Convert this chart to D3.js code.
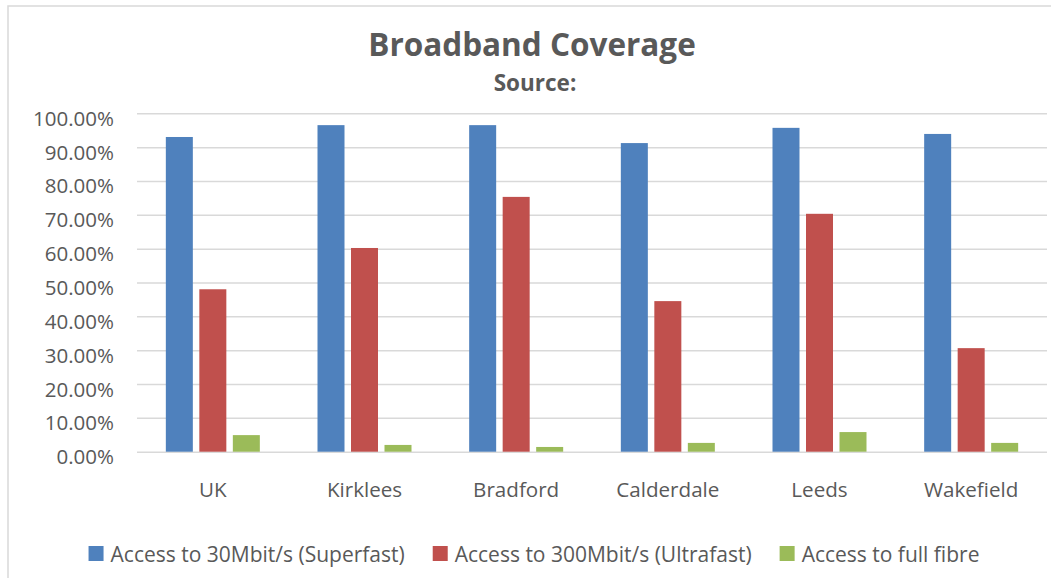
<!DOCTYPE html>
<html>
<head>
<meta charset="utf-8">
<script src="https://cdn.jsdelivr.net/npm/d3@7"></script>
<style>
  body { margin: 0; background: #fff; }
  text { font-family: "Open Sans", "Noto Sans", sans-serif; fill: #595959; }
</style>
</head>
<body>
<div id="chart"></div>
<script>
// chart values
var categories = ["UK", "Kirklees", "Bradford", "Calderdale", "Leeds", "Wakefield"];
var seriesNames = ["Access to 30Mbit/s (Superfast)", "Access to 300Mbit/s (Ultrafast)", "Access to full fibre"];
var superfast = [0.930, 0.965, 0.965, 0.912, 0.957, 0.939];
var ultrafast = [0.480, 0.602, 0.753, 0.445, 0.703, 0.306];
var fullFibre = [0.049, 0.020, 0.014, 0.026, 0.058, 0.026];
var yTicks = [0, 0.1, 0.2, 0.3, 0.4, 0.5, 0.6, 0.7, 0.8, 0.9, 1.0];
var colors = ["#4f81bd", "#c0504d", "#9bbb59"];

var W = 1051, H = 578;
var margin = { top: 113.3, right: 4, bottom: 126.3, left: 137 };
var width = W - margin.left - margin.right;
var height = H - margin.top - margin.bottom;

var svg = d3.select("#chart").append("svg")
    .attr("width", W)
    .attr("height", H);

// outer chart border
svg.append("rect")
    .attr("x", 8).attr("y", 6)
    .attr("width", W).attr("height", H)
    .attr("fill", "none")
    .attr("stroke", "#d9d9d9")
    .attr("stroke-width", 1.5);

// titles
svg.append("text")
    .attr("x", 532).attr("y", 56)
    .attr("text-anchor", "middle")
    .style("font-size", "31.5px").style("font-weight", "bold")
    .text("Broadband Coverage");
svg.append("text")
    .attr("x", 535).attr("y", 91)
    .attr("text-anchor", "middle")
    .style("font-size", "22.5px").style("font-weight", "bold")
    .text("Source:");

var g = svg.append("g")
    .attr("transform", "translate(" + margin.left + "," + margin.top + ")");

var y = d3.scaleLinear().domain([0, 1]).range([height, 0]);
var x0 = d3.scaleBand().domain(categories).range([0, width]).padding(0);
var keys = d3.range(seriesNames.length);
var groupW = 94;
var x1 = d3.scaleBand().domain(keys)
    .range([(x0.bandwidth() - groupW) / 2, (x0.bandwidth() + groupW) / 2])
    .paddingInner(0.194);

// gridlines + y labels
var yAxis = g.append("g")
    .call(d3.axisLeft(y).tickValues(yTicks).tickFormat(d3.format(".2%")).tickSize(-width).tickPadding(23));
yAxis.select(".domain").remove();
yAxis.selectAll(".tick line").attr("stroke", "#d9d9d9").attr("stroke-width", 1.5);
yAxis.selectAll(".tick text")
    .attr("dy", "12px")
    .style("font-size", "20.5px")
    .style("fill", "#595959");

// bars
var rows = categories.map(function(c, i) {
    return { cat: c, vals: [superfast[i], ultrafast[i], fullFibre[i]] };
});

var groups = g.selectAll(".grp").data(rows).enter().append("g")
    .attr("class", "grp")
    .attr("transform", function(d) { return "translate(" + x0(d.cat) + ",0)"; });

groups.selectAll("rect").data(function(d) { return d.vals; }).enter().append("rect")
    .attr("x", function(v, k) { return x1(k); })
    .attr("y", function(v) { return y(v); })
    .attr("width", x1.bandwidth())
    .attr("height", function(v) { return height - y(v); })
    .attr("fill", function(v, k) { return colors[k]; });

// x labels
var xAxis = g.append("g")
    .attr("transform", "translate(0," + height + ")")
    .call(d3.axisBottom(x0).tickSize(0).tickPadding(0));
xAxis.select(".domain").remove();
xAxis.selectAll(".tick text")
    .attr("dy", null)
    .attr("y", 45.5)
    .style("font-size", "20.6px")
    .style("fill", "#595959");

// legend
var legend = svg.append("g");
var items = legend.selectAll("g").data(seriesNames).enter().append("g");
items.append("rect")
    .attr("width", 15).attr("height", 15)
    .attr("y", 546)
    .attr("fill", function(d, i) { return colors[i]; });
items.append("text")
    .attr("x", 22).attr("y", 562)
    .style("font-size", "21px")
    .text(function(d) { return d; });
var pos = 0;
items.each(function() {
    var tw = d3.select(this).select("text").node().getComputedTextLength();
    d3.select(this).attr("data-off", pos);
    pos += 22 + tw + 28;
});
var total = pos - 28;
var startX = 534 - total / 2;
items.attr("transform", function() {
    return "translate(" + (startX + (+d3.select(this).attr("data-off"))) + ",0)";
});
</script>
</body>
</html>
